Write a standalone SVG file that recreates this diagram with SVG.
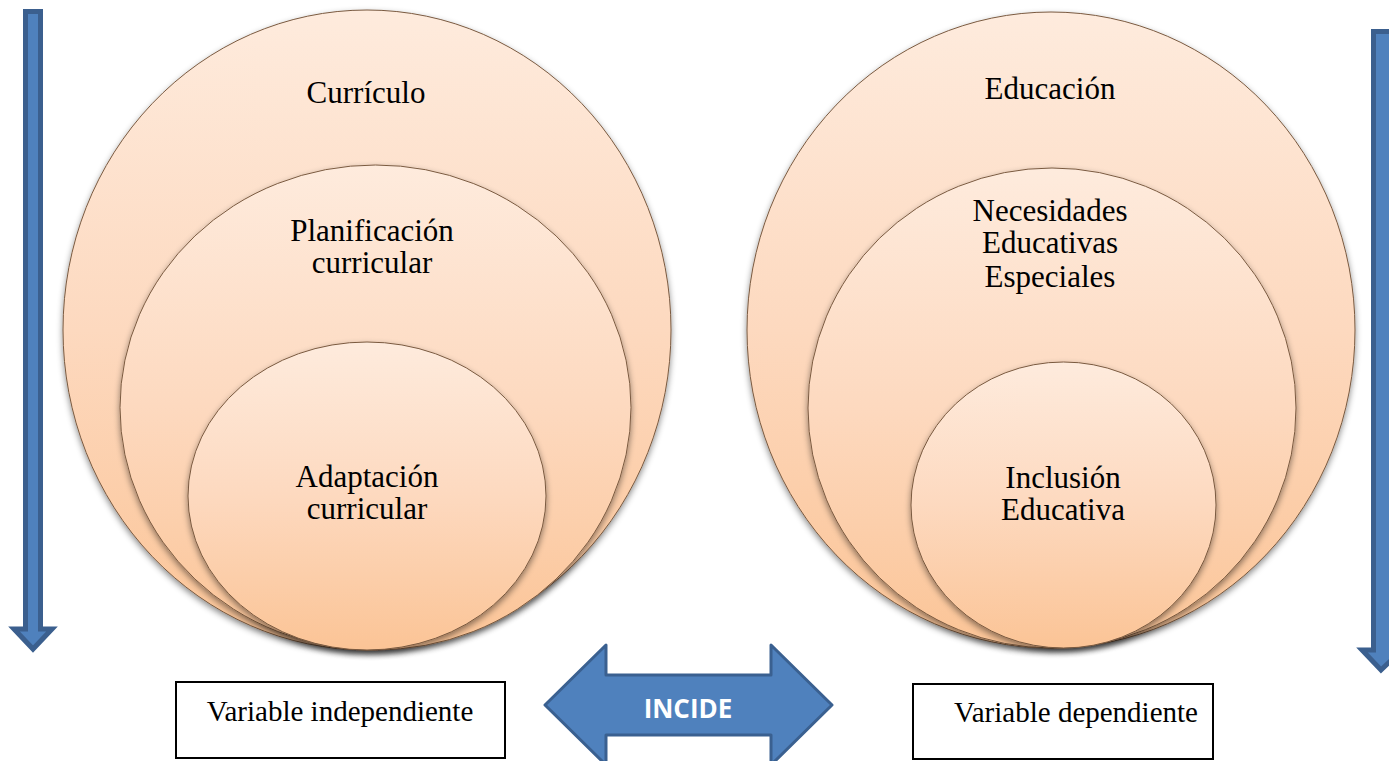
<svg xmlns="http://www.w3.org/2000/svg" width="1389" height="761" viewBox="0 0 1389 761">
<defs>
<linearGradient id="peach" x1="0" y1="0" x2="0" y2="1">
<stop offset="0" stop-color="#FEEBDD"/>
<stop offset="0.5" stop-color="#FDD9BF"/>
<stop offset="1" stop-color="#FBC496"/>
</linearGradient>
<filter id="shadow" x="-10%" y="-10%" width="120%" height="120%">
<feDropShadow dx="0" dy="3" stdDeviation="3" flood-color="#000" flood-opacity="0.45"/>
</filter>
<style>
.circ{fill:url(#peach);stroke:#7A5A40;stroke-width:1;filter:url(#shadow)}
.lbl{font-family:"Liberation Serif",serif;font-size:31px;fill:#000;text-anchor:middle}
.box{fill:#fff;stroke:#000;stroke-width:2}
.boxt{font-family:"Liberation Serif",serif;font-size:29px;fill:#000;text-anchor:middle}
.blue{fill:#4F81BD;stroke:#3A6090;stroke-width:3;stroke-linejoin:round}
.vshaft{fill:#4F81BD;stroke:#3B5F8E;stroke-width:5}
</style>
</defs>

<g id="arrow-left">
<path class="vshaft" d="M25.5,11.5 L40.5,11.5 L40.5,629 L52,629 L33,649 L14,629 L25.5,629 Z"/>
</g>
<g id="arrow-right">
<path class="vshaft" d="M1373.5,31.5 L1392,31.5 L1392,650 L1402,650 L1381,670 L1362,650 L1373.5,650 Z"/>
</g>

<g id="circles-left">
<g id="curriculo">
<ellipse class="circ" cx="367" cy="330" rx="304" ry="320"/>
<text class="lbl" x="366" y="103">Currículo</text>
</g>
<g id="planificacion">
<ellipse class="circ" cx="375.5" cy="407.5" rx="255.5" ry="242.5"/>
<text class="lbl" x="372" y="241">Planificación</text>
<text class="lbl" x="372" y="273">curricular</text>
</g>
<g id="adaptacion">
<ellipse class="circ" cx="367" cy="496" rx="179" ry="154"/>
<text class="lbl" x="367" y="487">Adaptación</text>
<text class="lbl" x="367" y="519">curricular</text>
</g>
</g>

<g id="circles-right">
<g id="educacion">
<ellipse class="circ" cx="1051" cy="330" rx="304" ry="318"/>
<text class="lbl" x="1050" y="99">Educación</text>
</g>
<g id="nee">
<ellipse class="circ" cx="1052" cy="408" rx="244" ry="240"/>
<text class="lbl" x="1050" y="221">Necesidades</text>
<text class="lbl" x="1050" y="253">Educativas</text>
<text class="lbl" x="1050" y="287">Especiales</text>
</g>
<g id="inclusion">
<ellipse class="circ" cx="1063.5" cy="505" rx="152.5" ry="143"/>
<text class="lbl" x="1063" y="488">Inclusión</text>
<text class="lbl" x="1063" y="520">Educativa</text>
</g>
</g>

<g id="incide">
<path class="blue" d="M545,705 L606,645 L606,675 L771,675 L771,645 L832,705 L771,765 L771,735 L606,735 L606,765 Z"/>
<text x="688" y="718" font-family="'Open Sans','Liberation Sans',sans-serif" font-weight="bold" font-size="26" fill="#fff" text-anchor="middle">INCIDE</text>
</g>

<g id="box-independiente">
<rect class="box" x="176" y="682" width="329" height="76"/>
<text class="boxt" x="340" y="721">Variable independiente</text>
</g>
<g id="box-dependiente">
<rect class="box" x="913" y="684" width="300" height="75"/>
<text class="boxt" x="1076" y="722">Variable dependiente</text>
</g>
</svg>
